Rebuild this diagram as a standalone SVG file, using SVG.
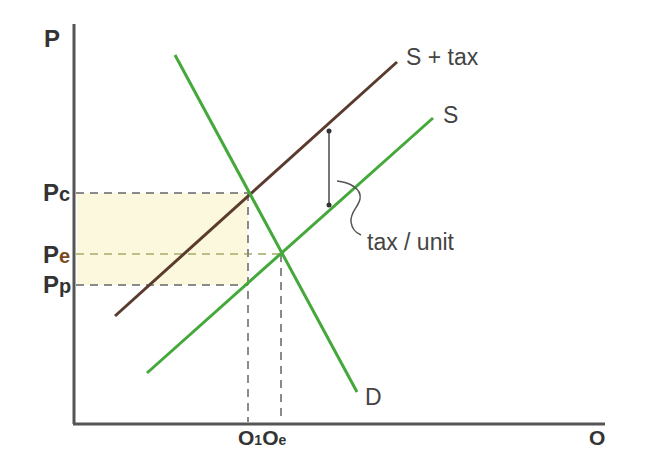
<svg xmlns="http://www.w3.org/2000/svg" width="655" height="450" viewBox="0 0 655 450">
<defs>
<style>
.axis{stroke:#555;stroke-width:3;fill:none}
.dash{stroke:#8a8a8a;stroke-width:2;stroke-dasharray:8,6;fill:none}
.dashy{stroke:#b9bf86;stroke-width:2;stroke-dasharray:8,6;fill:none}
.supply{stroke:#44a83a;stroke-width:3;fill:none}
.tax{stroke:#5b3b2e;stroke-width:3;fill:none}
.lbl{font-family:"Liberation Sans",Arial,sans-serif;font-size:23px;fill:#444}
.ax{font-family:"Liberation Sans",Arial,sans-serif;font-size:24px;font-weight:bold;fill:#333}
.axq{font-family:"Liberation Sans",Arial,sans-serif;font-size:21px;font-weight:bold;fill:#333}
</style>
<marker id="dot" viewBox="0 0 6 6" refX="3" refY="3" markerWidth="6" markerHeight="6" markerUnits="userSpaceOnUse">
<circle cx="3" cy="3" r="2.5" fill="#333"/>
</marker>
</defs>
<rect x="77" y="193" width="171" height="92" fill="#fbf8dd"/>
<g id="axes">
<line class="axis" x1="74" y1="24" x2="74" y2="424"/>
<line class="axis" x1="73" y1="424" x2="605" y2="424"/>
<text class="ax" x="44" y="47">P</text>
<text class="axq" x="589" y="445">O</text>
</g>
<g id="guides">
<line class="dash" x1="76" y1="193" x2="248" y2="193"/>
<line class="dashy" x1="76" y1="254" x2="282" y2="254"/>
<line class="dash" x1="76" y1="285" x2="248" y2="285"/>
<line class="dash" x1="248" y1="193" x2="248" y2="422"/>
<line class="dash" x1="281" y1="254" x2="281" y2="422"/>
</g>
<g id="price-labels">
<text class="ax" x="43" y="201">P<tspan font-size="20">c</tspan></text>
<text class="ax" x="43" y="263">P<tspan font-size="20" fill="#7a4a1a">e</tspan></text>
<text class="ax" x="43" y="293">P<tspan font-size="20">p</tspan></text>
</g>
<g id="qty-labels">
<text class="axq" x="238" y="445">O<tspan font-size="14">1</tspan>O<tspan font-size="14">e</tspan></text>
</g>
<g id="connectors">
<g id="s-tax">
<line class="tax" x1="115" y1="316" x2="397" y2="62"/>
<text class="lbl" x="406" y="65">S + tax</text>
</g>
<g id="s">
<line class="supply" x1="147" y1="373" x2="433" y2="118"/>
<text class="lbl" x="443" y="123" fill="#555">S</text>
</g>
<g id="d">
<line class="supply" x1="175" y1="55" x2="357" y2="392"/>
<text class="lbl" x="365" y="405">D</text>
</g>
<g id="tax-unit">
<line x1="329" y1="131" x2="329" y2="205" stroke="#777" stroke-width="2" marker-start="url(#dot)" marker-end="url(#dot)"/>
<path d="M337,181 C348,182 362,188 360,199 C358,208 350,212 351,222 C352,229 356,233 361,235" fill="none" stroke="#555" stroke-width="1.5"/>
<text class="lbl" x="367" y="250">tax / unit</text>
</g>
</g>
</svg>
